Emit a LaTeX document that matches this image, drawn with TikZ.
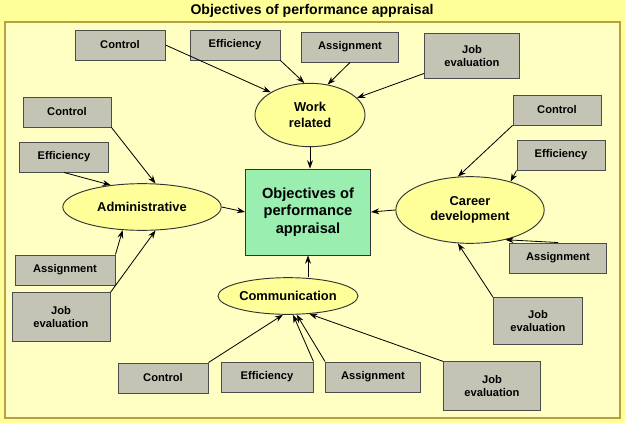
\documentclass[tikz,border=0pt]{standalone}
\usepackage{fontspec}
\setmainfont{Liberation Sans}
\usetikzlibrary{shapes.geometric,arrows.meta}
\definecolor{bgout}{HTML}{FFFF99}
\definecolor{bgin}{HTML}{FFFFC4}
\definecolor{frame}{HTML}{B8A040}
\definecolor{boxg}{HTML}{C4C4B4}
\definecolor{ell}{HTML}{FFFF99}
\definecolor{cen}{HTML}{99EEB0}
\begin{document}
\begin{tikzpicture}[x=0.03cm,y=-0.03cm,
  gbox/.style={draw=black!70,fill=boxg,line width=0.8pt,minimum width=#1*0.03cm,minimum height=0.9cm,align=center,font=\bfseries\fontsize{9.5}{11}\selectfont,inner sep=1pt},
  gbox/.default=90,
  ell/.style={ellipse,draw=black!80,fill=ell,line width=0.8pt,font=\bfseries\fontsize{11}{13}\selectfont,align=center,inner sep=0pt},
  arr/.style={-{Stealth[length=7pt,width=5pt]},line width=0.7pt}]
\useasboundingbox (0,0) rectangle (625,423);
\fill[bgout] (0,0) rectangle (625,423);
\draw[frame,fill=bgin,line width=1pt] (5,22) rectangle (620,418);
\node[font=\bfseries\fontsize{12}{14}\selectfont] (title) at (312,11) {Objectives of performance appraisal};
\node[draw=black!80,fill=cen,line width=0.8pt,minimum width=3.75cm,minimum height=2.58cm,align=center,font=\bfseries\fontsize{12.5}{15}\selectfont] (c) at (308,212) {Objectives of\\performance\\appraisal};
\node[ell,minimum width=3.3cm,minimum height=1.9cm] (w) at (310,115) {Work\\related};
\node[ell,minimum width=4.75cm,minimum height=1.4cm] (a) at (142,207) {Administrative};
\node[ell,minimum width=4.45cm,minimum height=2cm] (cd) at (470,210) {Career\\development};
\node[ell,minimum width=4.2cm,minimum height=1.1cm] (cm) at (288,296) {Communication};
% top
\node[gbox] (t1) at (120,45) {Control};
\node[gbox] (t2) at (235,45) {Efficiency};
\node[gbox=97] (t3) at (350,47) {Assignment};
\node[gbox=95,minimum height=1.35cm] (t4) at (472,56) {Job\\evaluation};
% left
\node[gbox=88] (l1) at (67,112) {Control};
\node[gbox=89] (l2) at (64,157) {Efficiency};
\node[gbox=100] (l3) at (65,270) {Assignment};
\node[gbox=98,minimum height=1.45cm] (l4) at (61,317) {Job\\evaluation};
% right
\node[gbox=88] (r1) at (557,110) {Control};
\node[gbox=88] (r2) at (561,155) {Efficiency};
\node[gbox=97] (r3) at (558,258) {Assignment};
\node[gbox=89,minimum height=1.4cm] (r4) at (538,321) {Job\\evaluation};
% bottom
\node[gbox] (b1) at (163,378) {Control};
\node[gbox=92] (b2) at (267,377) {Efficiency};
\node[gbox=95] (b3) at (373,377) {Assignment};
\node[gbox=97,minimum height=1.45cm] (b4) at (492,386) {Job\\evaluation};
% arrows
\draw[arr] (t1.east) -- (w.150);
\draw[arr] (t2.south east) -- (w.100);
\draw[arr] (t3.south) -- (w.60);
\draw[arr] (t4.200) -- (w.20);
\draw[arr] (l1.south east) -- (a.60);
\draw[arr] (l2.south) -- (a.145);
\draw[arr] (l3.north east) -- (a.230);
\draw[arr] (l4.north east) -- (a.300);
\draw[arr] (r1.south west) -- (cd.110);
\draw[arr] (r2.south west) -- (cd.35);
\draw[arr] (r3.north) -- (cd.320);
\draw[arr] (r4.north west) -- (cd.250);
\draw[arr] (b1.north east) -- (cm.255);
\draw[arr] (b2.north east) -- (cm.285);
\draw[arr] (b3.north west) -- (cm.295);
\draw[arr] (b4.north west) -- (cm.320);
\draw[arr] (w.south) -- (w.south |- c.north);
\draw[arr] (a.east) -- (c.west);
\draw[arr] (cd.west) -- (c.east);
\draw[arr] (cm.north -| c.south) -- (c.south);
\end{tikzpicture}
\end{document}
